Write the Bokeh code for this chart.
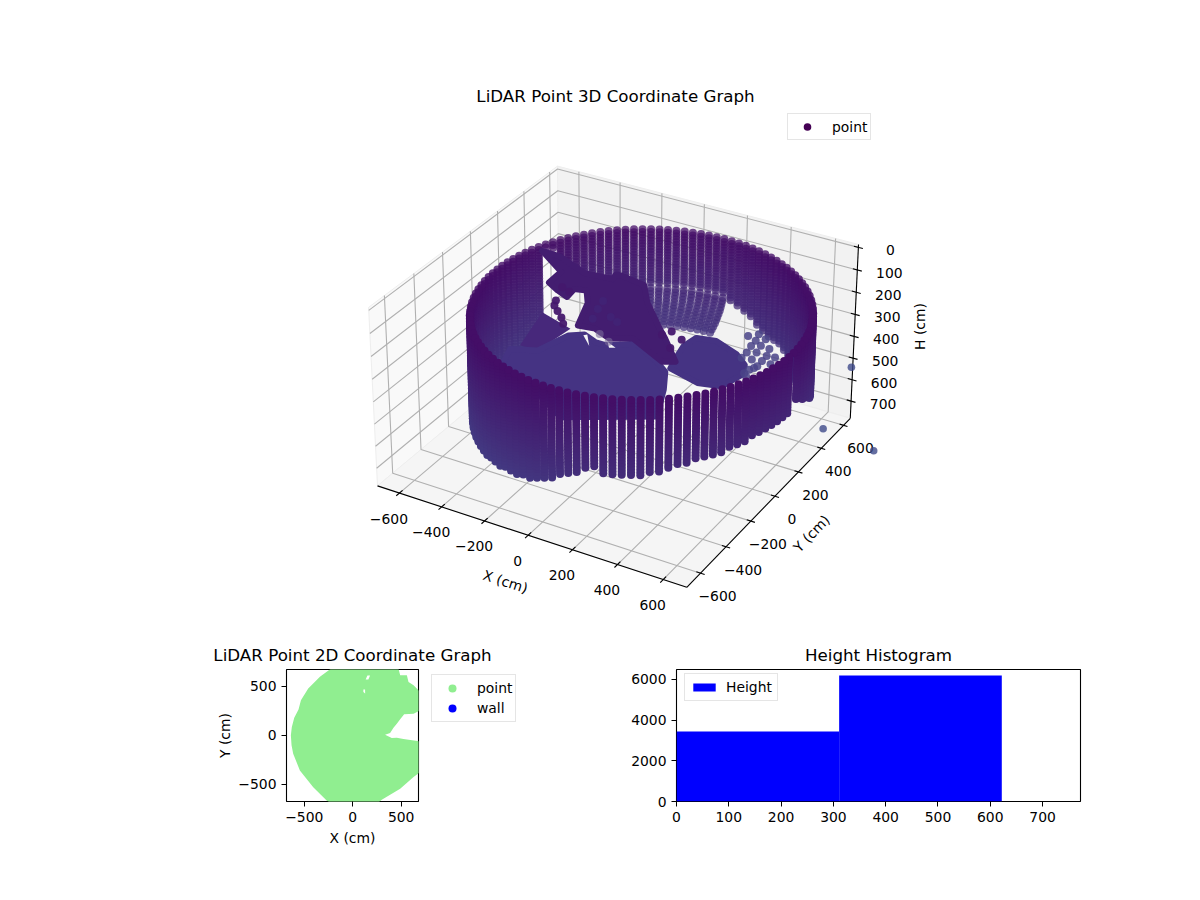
import numpy as np
from bokeh.plotting import figure
from bokeh.layouts import column, row
from bokeh.models import Range1d, Legend, LegendItem, FixedTicker
from bokeh.core.properties import value
from bokeh.embed import file_html
from bokeh.resources import INLINE

FONT = "DejaVu Sans"
TS = "13.9px"

# ---------- values ----------
x_ticks = [-600, -400, -200, 0, 200, 400, 600]
y_ticks = [-600, -400, -200, 0, 200, 400, 600]
h_ticks = [0, 100, 200, 300, 400, 500, 600, 700]
x_limits = (-705, 702)
y_limits = (-705, 662)
h_limits = (-13, 781)

ring_center = (62, 50)
wall_azimuth = [0,3,6,9,12,15,18,21,24,27,30,33,36,39,42,45,48,51,54,57,60,63,66,69,72,75,78,81,84,87,
                90,93,96,99,102,105,108,111,114,117,120,123,126,129,132,135,138,141,144,147,150,153,156,159,
                162,165,168,171,174,177,180,183,186,189,192,195,198,201,204,207,210,213,216,219,222,225,228,231,234,237,
                240,243,246,249,252,255,258,261,264,267,270,273,276,279,282,285,288,291,294,297,
                300,303,306,309,312,315,318,321,324,327,330,333,336,339,342,345,348,351,354,357]
wall_bottom = [162,382,400,418,437,455,475,496,515,533,554,565,580,590,600,610,615,620,620,620,
               540,533,530,528,510,495,478,460,445,430,415,415,415,415,415,415,415,415,415,415,
               450,450,450,450,450,440,420,380,340,300,250,190,170,620,
               620,620,620,620,620,620,620,620,620,620,620,620,620,620,620,620,
               620,620,620,620,620,620,620,620,620,620,
               618,615,612,609,606,602,598,595,575,560,547,530,515,497,480,464,483,488,490,488,
               482,478,472,465,455,445,442,438,434,431,428,424,420,415,410,410,409,409,409,409]
wall_radius = 675
h_levels = [157,170,183,196,209,222,235,248,261,274,287,300,313,326,339,352,365,378,391,404,417,430,
            443,456,469,482,495,508,521,534,547,560,573,586,599,612,620]

tail_azimuth = [90,93,96,99,102,105,108,111,114,117]
tail_fraction = [0.005,0.012,0.02,0.03,0.04,0.055,0.07,0.085,0.1,0.12,0.14,0.16]
tail_drop = [12,24,36,48,60,70,80,90,100,108,116,124]

floor_h = 400
floor_a_x = [-395,-459,-355,-311,-258,-189,-141,-39,106,174,235,311,-10,-301]
floor_a_y = [-297,-105,-60,103,140,110,110,180,98,46,-72,-259,-445,-259]
wedge_x = [-504,-332,-355,-440]
wedge_y = [211,152,-60,-60]
floor_b_x = [138,151,233,355,424,449,421,326,178,155]
floor_b_y = [255,339,356,304,246,174,59,35,79,172]
object_x = [-785,-690,-525,-394,-403,-373,-254,-168,-20,40,170,123,-73,-154,-245,-320,-380,-440,-491,-482,-543,-612,-617]
object_y = [658,651,579,592,633,635,613,492,335,276,135,108,210,163,202,190,366,456,440,369,396,436,541]
slit_a_x, slit_a_y = [-259,-194,-248], [133,72,146]
slit_b_x, slit_b_y = [-147,-94,-117], [137,111,98]
debris_x = [-507,-490,-455,-413,-379,-497,-543,38,106,99,17]
debris_y = [322,283,251,213,172,411,430,335,297,217,292]
pocket_x = [-318,-238,-334,-295,-195]
pocket_y = [345,314,413,266,293]
pale_x = [-207,-143]
pale_y = [175,139]
cluster_x = [326,357,371,374,384,385,400,408,418,427,450,466,468,471,501,510,451,456,466,470]
cluster_y = [455,489,436,391,336,291,467,411,356,299,405,352,308,263,357,302,191,223,245,172]
outlier_x = [801,911,1149]
outlier_y = [439,-23,-69]

outline_x = [-200,-338,-459,-534,-559,-603,-628,-638,-631,-614,-545,-407,-269,-217,248,300,490,628,697,697,524,455,403,334,
             386,421,455,490,531,628,697,697,628,576,559,490,472,472]
outline_y = [697,595,476,357,262,180,85,0,-100,-187,-357,-527,-663,-697,-697,-656,-544,-425,-374,-61,-37,-24,-27,7,
             24,78,119,163,214,221,255,442,510,544,612,612,680,697]
hole1_x, hole1_y = [134,152,179,162], [568,609,609,568]
hole2_x, hole2_y = [110,128,128,110], [466,466,425,442]

hist_edges = [0, 311, 622]
hist_counts = [3440, 6190]

# ---------- 3-D view ----------
AZ, EL, DIST = np.radians(-60), np.radians(30), 10.0
BX, BY, BZ = 1.25, 1.25, 0.7123
CX, CY, SX, SY = 618.0, 364.4, 2817.0, 2855.0
W = np.array([np.cos(EL)*np.cos(AZ), np.cos(EL)*np.sin(AZ), np.sin(EL)])
U = np.cross([0, 0, 1], W); U = U/np.linalg.norm(U)
V = np.cross(W, U)

def project(x, y, h):
    x, y, h = np.asarray(x, float), np.asarray(y, float), np.asarray(h, float)
    X = (x-x_limits[0])/(x_limits[1]-x_limits[0])*BX - BX/2
    Y = (y-y_limits[0])/(y_limits[1]-y_limits[0])*BY - BY/2
    Z = BZ/2 - (h-h_limits[0])/(h_limits[1]-h_limits[0])*BZ
    u = U[0]*X+U[1]*Y
    v = V[0]*X+V[1]*Y+V[2]*Z
    w = W[0]*X+W[1]*Y+W[2]*Z
    d = DIST-w
    return u/d, v/d, w

def from_px(px, py):
    return (px-CX)/SX, (CY-py)/SY

p = figure(width=1192, height=633, output_backend="svg", toolbar_location=None,
           x_axis_type=None, y_axis_type=None, min_border=0,
           x_range=Range1d(*[from_px(v, 0)[0] for v in (0, 1192)]),
           y_range=Range1d(from_px(0, 633)[1], from_px(0, 0)[1]))
p.outline_line_color = None
p.grid.visible = False

xl, xh = x_limits; yl, yh = y_limits; ht, hb = h_limits

def pane(xs, ys, hs, color):
    a, b, _ = project(xs, ys, hs)
    p.patch(a, b, fill_color=color, line_color="#eeeeee", line_width=1)

pane([xl, xl, xl, xl], [yl, yh, yh, yl], [hb, hb, ht, ht], "#f9f9f9")
pane([xl, xh, xh, xl], [yh, yh, yh, yh], [hb, hb, ht, ht], "#f2f2f2")
pane([xl, xh, xh, xl], [yl, yl, yh, yh], [hb, hb, hb, hb], "#f5f5f5")

def path(xs, ys, hs, color="#b0b0b0", width=1.1):
    a, b, _ = project(xs, ys, hs)
    p.line(a, b, line_color=color, line_width=width)

for t in x_ticks:
    path([t, t, t], [yl, yh, yh], [hb, hb, ht])
for t in y_ticks:
    path([xh, xl, xl], [t, t, t], [hb, hb, ht])
for t in h_ticks:
    path([xl, xl, xh], [yl, yh, yh], [t, t, t])

path([xl, xh], [yl, yl], [hb, hb], "black")
path([xh, xh], [yl, yh], [hb, hb], "black")
path([xh, xh], [yh, yh], [hb, ht], "black")
for t in x_ticks:
    path([t, t], [yl-22, yl+22], [hb, hb], "black")
for t in y_ticks:
    path([xh-18, xh+18], [t, t], [hb, hb], "black")
for t in h_ticks:
    path([xh-20, xh+20], [yh, yh], [t, t], "black")

def label(xv, yv, hv, text, dx, dy, angle=0, size=TS):
    a, b, _ = project(xv, yv, hv)
    p.text([float(a)], [float(b)], text=[text], x_offset=dx, y_offset=dy, angle=np.radians(angle),
           text_align="center", text_baseline="middle", text_font=value(FONT),
           text_font_size=size, text_color="black")

fmt = lambda t: str(t).replace("-", "\u2212")
for t in x_ticks:
    label(t, yl, hb, fmt(t), -10.5, 25.5)
for t in y_ticks:
    label(xh, t, hb, fmt(t), 17, 23)
for t in h_ticks:
    label(xh, yh, t, fmt(t), 32, 3)

def text_px(px, py, text, angle=0, size=TS):
    a, b = from_px(px, py)
    p.text([a], [b], text=[text], angle=np.radians(angle), text_align="center", text_baseline="middle",
           text_font=value(FONT), text_font_size=size, text_color="black")

text_px(615, 95, "LiDAR Point 3D Coordinate Graph", size="16.7px")
text_px(505, 581, "X (cm)", -18)
text_px(811, 533, "Y (cm)", 46)
text_px(919, 326, "H (cm)", 90)

# point cloud
TOP_RGB = np.array([0x44, 0x0e, 0x67], float)
BOT_RGB = np.array([0x43, 0x3a, 0x82], float)
def colors(h):
    f = np.clip((np.asarray(h, float)-157)/(620-157), 0, 1)[:, None]
    c = TOP_RGB*(1-f)+BOT_RGB*f
    return ["#%02x%02x%02x" % tuple(int(v) for v in row_) for row_ in c]

WMIN, WMAX = -0.75, 0.75
def cloud(xs, ys, hs, alpha_boost=0.0):
    a, b, w = project(xs, ys, hs)
    order = np.argsort(w)
    alpha = np.clip(0.68+0.32*(w-WMIN)/(WMAX-WMIN)+alpha_boost, 0, 1)
    cols = colors(hs)
    p.scatter(a[order], b[order], size=8, line_color=None,
              fill_color=[cols[i] for i in order], fill_alpha=alpha[order])

back = {"x": [], "y": [], "h": []}
front = {"x": [], "y": [], "h": []}
for az, bottom in zip(wall_azimuth, wall_bottom):
    c, s = np.cos(np.radians(az)), np.sin(np.radians(az))
    store = back if 30 <= az <= 210 else front
    for h in h_levels:
        if h <= bottom:
            store["x"].append(ring_center[0]+wall_radius*c)
            store["y"].append(ring_center[1]+wall_radius*s)
            store["h"].append(h)
    if az in tail_azimuth:
        for f, dh in zip(tail_fraction, tail_drop):
            store["x"].append(ring_center[0]+wall_radius*(1-f)*c)
            store["y"].append(ring_center[1]+wall_radius*(1-f)*s)
            store["h"].append(bottom+dh)

cloud(back["x"], back["y"], back["h"])

def blob(xs, ys, color, border=6):
    a, b, _ = project(xs, ys, [floor_h]*len(xs))
    p.patch(a, b, fill_color=color, line_color=color if border else None, line_width=border, line_join="round")

def dots(xs, ys, color, alpha=0.9):
    a, b, _ = project(xs, ys, [floor_h]*len(xs))
    p.scatter(a, b, size=8, fill_color=color, fill_alpha=alpha, line_color=None)

blob(wedge_x, wedge_y, "#47287b", 0)
blob(floor_a_x, floor_a_y, "#453383")
blob(floor_b_x, floor_b_y, "#453383")
blob(object_x, object_y, "#431d70")
blob(slit_a_x, slit_a_y, "#f5f5f5", 0)
blob(slit_b_x, slit_b_y, "#f5f5f5", 0)
dots(pocket_x, pocket_y, "#40287a", 0.5)
dots(pale_x, pale_y, "#7a6a9a", 0.6)
dots(debris_x, debris_y, "#44186d", 0.95)
dots(cluster_x, cluster_y, "#4a4488", 0.85)

cloud(front["x"], front["y"], front["h"], 0.25)

a, b, _ = project(outlier_x, outlier_y, [floor_h]*len(outlier_x))
p.scatter(a, b, size=7.6, fill_color="#3f4a8a", fill_alpha=0.8, line_color=None)

def make_legend(items, location, glyph_width, glyph_height, standoff, padding):
    return Legend(items=items, location=location, label_text_font=FONT, label_text_font_size=TS,
                  label_text_color="black", border_line_color="#cccccc", background_fill_alpha=0.8,
                  padding=padding, margin=0, spacing=0, glyph_width=glyph_width,
                  glyph_height=glyph_height, label_standoff=standoff)

dummy = p.scatter([np.nan], [np.nan], size=7.6, fill_color="#440154", line_color=None)
p.add_layout(make_legend([LegendItem(label="point", renderers=[dummy])], (787, 493), 32, 19, 9, 3))

# ---------- 2-D panels ----------
def style(f, xt, yt):
    for ax in (f.xaxis[0], f.yaxis[0]):
        ax.major_tick_out = 5
        ax.major_tick_in = 0
        ax.minor_tick_out = 0
        ax.minor_tick_in = 0
        ax.major_tick_line_color = "black"
        ax.axis_line_color = None
        ax.major_label_text_font = FONT
        ax.major_label_text_font_size = TS
        ax.major_label_text_color = "black"
        ax.axis_label_text_font = FONT
        ax.axis_label_text_font_size = TS
        ax.axis_label_text_font_style = "normal"
        ax.axis_label_text_color = "black"
    f.xaxis[0].ticker = FixedTicker(ticks=xt)
    f.yaxis[0].ticker = FixedTicker(ticks=yt)
    f.xaxis[0].major_label_overrides = {t: fmt(t) for t in xt}
    f.yaxis[0].major_label_overrides = {t: fmt(t) for t in yt}
    f.yaxis[0].major_label_orientation = "horizontal"
    f.grid.visible = False
    f.outline_line_color = "black"
    f.outline_line_width = 1.1
    f.title.align = "center"
    f.title.text_font = FONT
    f.title.text_font_size = "16.7px"
    f.title.text_font_style = "normal"
    f.title.text_color = "black"

pl = figure(width=600, height=247, output_backend="svg", toolbar_location=None,
            title="LiDAR Point 2D Coordinate Graph", x_axis_label="X (cm)", y_axis_label="Y (cm)",
            x_range=Range1d(-683, 679), y_range=Range1d(-673, 670),
            min_border_left=286, min_border_right=182, min_border_top=36, min_border_bottom=79)
style(pl, [-500, 0, 500], [-500, 0, 500])
pl.yaxis[0].axis_label_standoff = 2
pl.patch(outline_x, outline_y, fill_color="#90ee90", line_color=None)
pl.patch(hole1_x, hole1_y, fill_color="white", line_color=None)
pl.patch(hole2_x, hole2_y, fill_color="white", line_color=None)

# legend of the 2-D panel sits outside its axes, on a transparent sheet of its own
pk = figure(width=182, height=247, output_backend="svg", toolbar_location=None, x_axis_type=None, y_axis_type=None,
            min_border_left=0, min_border_right=0, min_border_top=36, min_border_bottom=79,
            x_range=Range1d(0, 1), y_range=Range1d(0, 1), margin=(0, 0, 0, -182))
pk.outline_line_color = None
pk.grid.visible = False
pk.background_fill_alpha = 0
pk.border_fill_alpha = 0
d1 = pk.scatter([np.nan], [np.nan], size=9, fill_color="#90ee90", line_color=None)
d2 = pk.scatter([np.nan], [np.nan], size=9, fill_color="blue", line_color=None)
pk.add_layout(make_legend([LegendItem(label="point", renderers=[d1]), LegendItem(label="wall", renderers=[d2])],
                          (13, 79), 34, 20, 8, 3))

pr = figure(width=592, height=247, output_backend="svg", toolbar_location=None,
            title="Height Histogram", x_range=Range1d(0, 772.5), y_range=Range1d(0, 6490),
            min_border_left=76, min_border_right=112, min_border_top=36, min_border_bottom=79)
style(pr, [0, 100, 200, 300, 400, 500, 600, 700], [0, 2000, 4000, 6000])
q = pr.quad(left=hist_edges[:-1], right=hist_edges[1:], bottom=[0, 0], top=hist_counts,
            fill_color="blue", line_color=None)
pr.add_layout(make_legend([LegendItem(label="Height", renderers=[q])], (8, 100), 28, 10, 8, 5))

page = column(p, row(pl, pk, pr, spacing=0), spacing=0)
open("out.html", "w").write(file_html(page, INLINE))
